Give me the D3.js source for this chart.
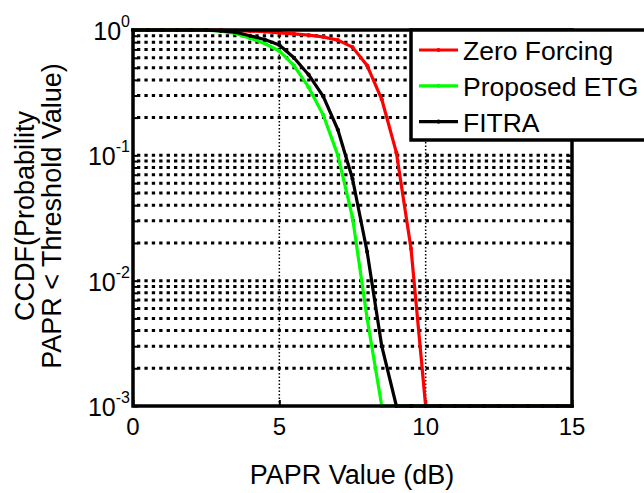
<!DOCTYPE html>
<html>
<head>
<meta charset="utf-8">
<script src="https://cdn.jsdelivr.net/npm/d3@7"></script>
<style>
  body { margin: 0; background: #fff; }
  svg { display: block; font-family: "Liberation Sans", Arial, sans-serif; }
</style>
</head>
<body>
<svg id="chart" width="644" height="493"></svg>
<script>
// PAPR values (dB) for every sample
const papr = [0, 0.5, 1, 1.5, 2, 2.5, 3, 3.5, 4, 4.5, 5, 5.5, 6, 6.5, 7, 7.5, 8, 8.5, 9, 9.5,
              10, 10.5, 11, 11.5, 12, 12.5, 13, 13.5, 14, 14.5, 15];

// CCDF of each method (floor at 1e-3)
const zeroForcing = [1, 1, 1, 1, 1, 1, 1, 0.99, 0.98, 0.97, 0.95, 0.93, 0.91, 0.88, 0.83, 0.73,
                     0.52, 0.28, 0.105, 0.018, 0.001, 0.001, 0.001, 0.001, 0.001, 0.001, 0.001,
                     0.001, 0.001, 0.001, 0.001];
const proposedEtg = [1, 1, 1, 1, 1, 0.995, 0.98, 0.94, 0.86, 0.78, 0.68, 0.52, 0.35, 0.21, 0.1,
                     0.032, 0.005, 0.001, 0.001, 0.001, 0.001, 0.001, 0.001, 0.001, 0.001, 0.001,
                     0.001, 0.001, 0.001, 0.001, 0.001];
const fitra = [1, 1, 1, 1, 1, 1, 0.985, 0.96, 0.9, 0.84, 0.76, 0.6, 0.44, 0.295, 0.16, 0.065,
               0.017, 0.003, 0.001, 0.001, 0.001, 0.001, 0.001, 0.001, 0.001, 0.001, 0.001,
               0.001, 0.001, 0.001, 0.001];

const seriesNames = ['Zero Forcing', 'Proposed ETG', 'FITRA'];
const seriesColors = ['#ff0000', '#00ff00', '#000000'];

const xTicks = [0, 5, 10, 15];
const yTicks = [1e-3, 1e-2, 1e-1, 1];
const yTickExp = ['-3', '-2', '-1', '0'];

const svg = d3.select('#chart');
const plotL = 133, plotR = 572, plotT = 30, plotB = 406;

const x = d3.scaleLinear().domain([0, 15]).range([plotL, plotR]);
const y = d3.scaleLog().domain([1e-3, 1]).range([plotB, plotT]);

// minor log values for the grid and the side ticks
const minorY = [];
[1e-3, 1e-2, 1e-1].forEach(base => {
    for (let m = 2; m <= 9; m++) minorY.push(m * base);
});

// horizontal grid (thick dotted)
svg.append('g')
    .selectAll('line')
    .data(minorY.concat([1e-2, 1e-1]))
    .enter()
    .append('line')
    .attr('x1', plotL + 4)
    .attr('x2', plotR)
    .attr('y1', d => y(d))
    .attr('y2', d => y(d))
    .attr('stroke', '#000')
    .attr('stroke-width', 3)
    .attr('stroke-dasharray', '3.3,4.1');

// vertical grid (thin dotted)
svg.append('g')
    .selectAll('line')
    .data([5, 10])
    .enter()
    .append('line')
    .attr('x1', d => x(d))
    .attr('x2', d => x(d))
    .attr('y1', plotT)
    .attr('y2', plotB)
    .attr('stroke', '#000')
    .attr('stroke-width', 1.5)
    .attr('stroke-dasharray', '1.5,2');

// axes with inward ticks
const yAxisL = d3.axisRight(y).tickValues(minorY.concat(yTicks)).tickSize(5).tickFormat('');
const yAxisR = d3.axisLeft(y).tickValues(minorY.concat(yTicks)).tickSize(5).tickFormat('');
const xAxisB = d3.axisTop(x).tickValues(xTicks).tickSize(6).tickFormat('');
const xAxisT = d3.axisBottom(x).tickValues(xTicks).tickSize(6).tickFormat('');

[[yAxisL, `translate(${plotL},0)`], [yAxisR, `translate(${plotR},0)`],
 [xAxisB, `translate(0,${plotB})`], [xAxisT, `translate(0,${plotT})`]].forEach(a => {
    const g = svg.append('g').attr('transform', a[1]).call(a[0]);
    g.select('.domain').remove();
    g.selectAll('line').attr('stroke', '#000').attr('stroke-width', 2);
});

// data lines
const allSeries = [zeroForcing, proposedEtg, fitra];
const line = d3.line()
    .x((d, i) => x(papr[i]))
    .y(d => y(d));

allSeries.forEach((vals, k) => {
    svg.append('path')
        .datum(vals)
        .attr('d', line)
        .attr('fill', 'none')
        .attr('stroke', seriesColors[k])
        .attr('stroke-width', 3.2)
        .attr('stroke-linejoin', 'round');
    svg.append('g')
        .selectAll('circle')
        .data(vals)
        .enter()
        .append('circle')
        .attr('cx', (d, i) => x(papr[i]))
        .attr('cy', d => y(d))
        .attr('r', 2.1)
        .attr('fill', seriesColors[k]);
});

// plot box
svg.append('rect')
    .attr('x', plotL).attr('y', plotT)
    .attr('width', plotR - plotL).attr('height', plotB - plotT)
    .attr('fill', 'none')
    .attr('stroke', '#000')
    .attr('stroke-width', 3.5);

// x tick labels
svg.append('g')
    .selectAll('text')
    .data(xTicks)
    .enter()
    .append('text')
    .attr('x', d => x(d))
    .attr('y', 435)
    .attr('text-anchor', 'middle')
    .attr('font-size', 24)
    .text(d => d);

// y tick labels as 10^n
yTicks.forEach((v, i) => {
    const t = svg.append('text')
        .attr('x', 130)
        .attr('y', y(v) + 10)
        .attr('text-anchor', 'end')
        .attr('font-size', 25);
    t.append('tspan').text('10');
    t.append('tspan').attr('dy', -13).attr('font-size', 16).text(yTickExp[i]);
});

// axis titles
svg.append('text')
    .attr('x', 352)
    .attr('y', 484)
    .attr('text-anchor', 'middle')
    .attr('font-size', 27)
    .text('PAPR Value (dB)');

const yTitle = svg.append('text')
    .attr('transform', 'translate(34,216) rotate(-90)')
    .attr('text-anchor', 'middle')
    .attr('font-size', 27);
yTitle.append('tspan').attr('x', 0).attr('y', 0).text('CCDF(Probability');
yTitle.append('tspan').attr('x', 0).attr('y', 27).text('PAPR < Threshold Value)');

// legend
const legend = svg.append('g');
legend.append('rect')
    .attr('x', 411).attr('y', 30)
    .attr('width', 260).attr('height', 110)
    .attr('fill', '#fff')
    .attr('stroke', '#000')
    .attr('stroke-width', 3.5);

seriesNames.forEach((name, k) => {
    const ly = 50 + k * 35.8;
    legend.append('line')
        .attr('x1', 419).attr('x2', 458)
        .attr('y1', ly).attr('y2', ly)
        .attr('stroke', seriesColors[k])
        .attr('stroke-width', 3.2);
    legend.append('circle')
        .attr('cx', 438.5).attr('cy', ly).attr('r', 2.1)
        .attr('fill', seriesColors[k]);
    legend.append('text')
        .attr('x', 463)
        .attr('y', ly + 10)
        .attr('font-size', 26.5)
        .text(name);
});
</script>
</body>
</html>
